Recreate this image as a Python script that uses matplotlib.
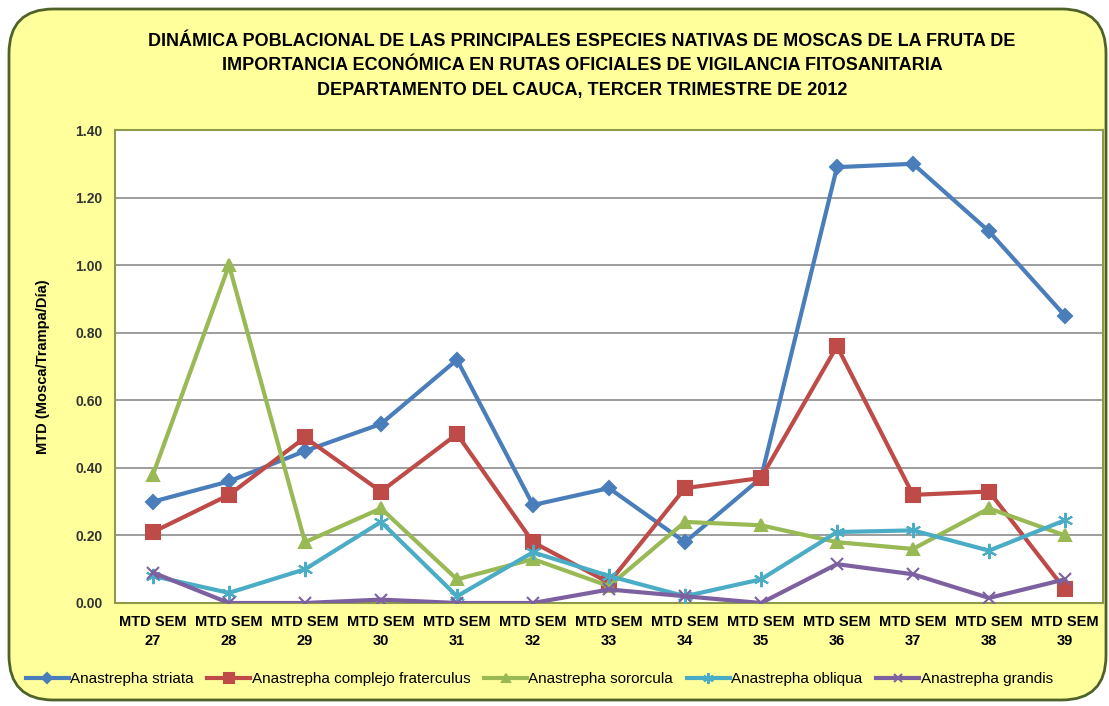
import numpy as np
import matplotlib
matplotlib.use("Agg")
import matplotlib.pyplot as plt
from matplotlib.patches import FancyBboxPatch

plt.rcParams['font.family'] = ['Liberation Sans', 'DejaVu Sans']

semanas = ["MTD SEM\n27", "MTD SEM\n28", "MTD SEM\n29", "MTD SEM\n30", "MTD SEM\n31",
           "MTD SEM\n32", "MTD SEM\n33", "MTD SEM\n34", "MTD SEM\n35", "MTD SEM\n36",
           "MTD SEM\n37", "MTD SEM\n38", "MTD SEM\n39"]
striata = [0.30, 0.36, 0.45, 0.53, 0.72, 0.29, 0.34, 0.18, 0.37, 1.29, 1.30, 1.10, 0.85]
fraterculus = [0.21, 0.32, 0.49, 0.33, 0.50, 0.18, 0.06, 0.34, 0.37, 0.76, 0.32, 0.33, 0.04]
sororcula = [0.38, 1.00, 0.18, 0.28, 0.07, 0.13, 0.05, 0.24, 0.23, 0.18, 0.16, 0.28, 0.20]
obliqua = [0.08, 0.03, 0.10, 0.24, 0.02, 0.15, 0.08, 0.02, 0.07, 0.21, 0.215, 0.155, 0.245]
grandis = [0.09, 0.00, 0.00, 0.01, 0.00, 0.00, 0.04, 0.02, 0.00, 0.115, 0.085, 0.015, 0.07]

series = [
    ("Anastrepha striata", striata, "#4A7EBB", "D", 7),
    ("Anastrepha complejo fraterculus", fraterculus, "#BE4B48", "s", 10),
    ("Anastrepha sororcula", sororcula, "#98B954", "^", 9),
    ("Anastrepha obliqua", obliqua, "#4BACC6", (6, 2, 0), 11),
    ("Anastrepha grandis", grandis, "#7D60A0", "x", 9),
]

fig = plt.figure(figsize=(11.09, 7.06), dpi=100)
fig.patch.set_facecolor("white")

# fondo amarillo redondeado
bg = FancyBboxPatch((9 / 1109, 6 / 706), 1097 / 1109, 691 / 706,
                    boxstyle="round,pad=0,rounding_size=0.04",
                    mutation_aspect=1109 / 706,
                    transform=fig.transFigure, facecolor="#FFFF9C",
                    edgecolor="#4F6228", lw=2, zorder=-5)
fig.patches.append(bg)

ax = fig.add_axes([115 / 1109, 1 - 603 / 706, 988 / 1109, 473 / 706])
ax.set_zorder(2)
ax.set_facecolor("white")
x = np.arange(len(semanas))
for nombre, vals, col, mk, ms in series:
    ax.plot(x, vals, color=col, lw=3, marker=mk, ms=ms, mec=col, mfc=col,
            mew=1.5, label=nombre, zorder=3)

ax.set_xlim(-0.5, len(semanas) - 0.5)
ax.set_ylim(0, 1.40)
ax.set_yticks(np.arange(0, 1.41, 0.2))
ax.set_yticklabels([f"{v:.2f}" for v in np.arange(0, 1.41, 0.2)],
                   fontsize=10, fontweight="bold", color="#333333")
ax.set_xticks(x)
ax.set_xticklabels(semanas, fontsize=10.5, fontweight="bold", linespacing=1.45)
ax.tick_params(axis="both", length=0, pad=9)
ax.yaxis.grid(True, color="#8C8C8C", lw=1.2)
ax.set_axisbelow(True)
for s in ax.spines.values():
    s.set_color("#8C9A4A")
    s.set_linewidth(1.5)
ax.set_ylabel("MTD (Mosca/Trampa/Día)", fontsize=10.5, fontweight="bold", labelpad=18)

titulo = ["DINÁMICA POBLACIONAL DE LAS PRINCIPALES ESPECIES NATIVAS DE MOSCAS DE LA FRUTA DE",
          "IMPORTANCIA ECONÓMICA EN RUTAS OFICIALES DE VIGILANCIA FITOSANITARIA",
          "DEPARTAMENTO DEL CAUCA, TERCER TRIMESTRE DE 2012"]
for i, linea in enumerate(titulo):
    fig.text(582 / 1109, 1 - (41 + 24.5 * i) / 706, linea,
             ha="center", va="center", fontsize=13, fontweight="bold")

h, l = ax.get_legend_handles_labels()
fig.legend(h, l, loc="center left", bbox_to_anchor=(12 / 1109, 1 - 679 / 706),
           ncol=5, frameon=False, fontsize=11, handlelength=2.8,
           handletextpad=0.1, columnspacing=0.9, markerscale=0.7)

fig.savefig("out.png", dpi=100)
